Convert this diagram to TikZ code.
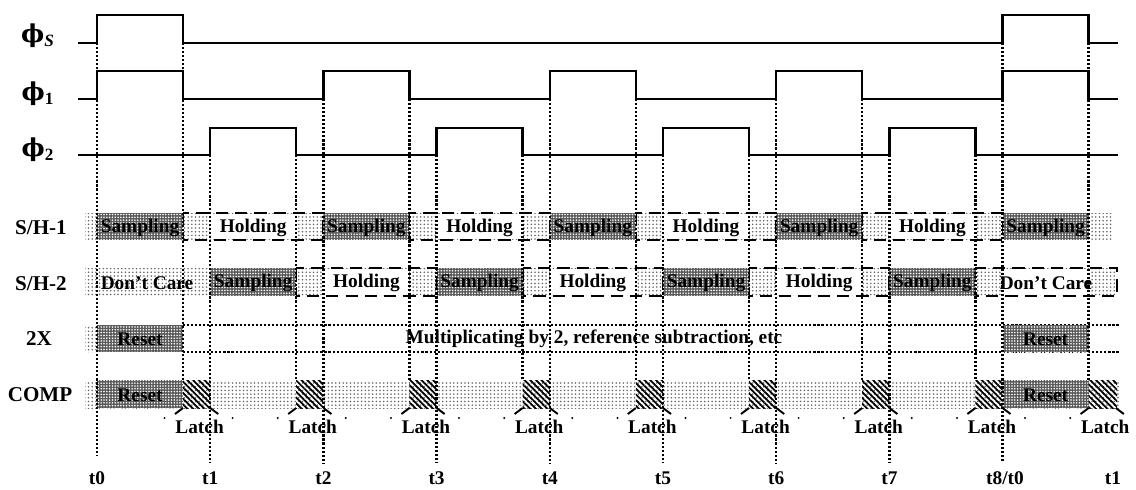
\documentclass[tikz,border=0pt]{standalone}
\usepackage{fontspec}
\setmainfont{Liberation Serif}
\newfontfamily\phifam{DejaVu Serif}
\usetikzlibrary{patterns.meta}

\newcommand\rowfont{\fontsize{11}{13}\selectfont\bfseries}
\newcommand\sidefont{\fontsize{12}{14}\selectfont\bfseries}
\newcommand\phifont{\fontsize{14}{17}\selectfont\bfseries}
\newcommand\phisym{{\phifam\bfseries ϕ}}

\begin{document}
\begin{tikzpicture}[x=0.02cm,y=-0.02cm,
  wave/.style={line width=1.4pt},
  guide/.style={line width=1.4pt,dash pattern=on 1.2pt off 1.1pt},
  band/.style={pattern={Dots[radius=0.5pt,distance=2.1pt]},pattern color=black!60},
  darkbox/.style={preaction={fill=black!65},pattern={Dots[radius=0.5pt,distance=1.6pt]},pattern color=white},
  latchbox/.style={pattern={Lines[angle=-45,distance=2.3pt,line width=1pt]},pattern color=black},
  holdbox/.style={line width=1.2pt,dash pattern=on 7pt off 4pt},
  rowline/.style={line width=1.4pt,dash pattern=on 1.2pt off 1.1pt},
  rowtext/.style={font=\rowfont,inner sep=1pt},
  sidelabel/.style={font=\sidefont,inner sep=0pt}]
\useasboundingbox (0,0) rectangle (1136,490);

% clock waveforms
\draw[wave] (78,43) \foreach \k in {0,8} { -- ({97+113.2*\k},43) -- ({97+113.2*\k},15) -- ({183+113.2*\k},15) -- ({183+113.2*\k},43) } -- (1118,43);
\draw[wave] (78,99) \foreach \k in {0,2,4,6,8} { -- ({97+113.2*\k},99) -- ({97+113.2*\k},71) -- ({183+113.2*\k},71) -- ({183+113.2*\k},99) } -- (1118,99);
\draw[wave] (78,155) \foreach \k in {1,3,5,7} { -- ({97+113.2*\k},155) -- ({97+113.2*\k},128) -- ({183+113.2*\k},128) -- ({183+113.2*\k},155) } -- (1118,155);

\node[font=\phifont,inner sep=0pt] (phis) at (38,36) {\phisym\textsubscript{\itshape S}};
\node[font=\phifont,inner sep=0pt] (phi1) at (38,94) {\phisym\textsubscript{1}};
\node[font=\phifont,inner sep=0pt] (phi2) at (38,150) {\phisym\textsubscript{2}};

% background bands
\fill[band] (85,213) rectangle (1113,240);
\fill[band] (85,268) rectangle (1117,296);
\fill[band] (85,325) rectangle (97,352);
\fill[band] (85,380) rectangle (1120,408);

% S/H-1
\foreach \k in {0,2,4,6} {
  \fill[white] ({97+113.2*(\k+1)},214) rectangle ({183+113.2*(\k+1)},239);
  \draw[holdbox] ({183+113.2*\k},213) rectangle ({97+113.2*(\k+2)},240);
}
\foreach \k in {0,2,4,6,8}
  \fill[darkbox] ({97+113.2*\k},213) rectangle ({183+113.2*\k},240);

% S/H-2
\foreach \k in {1,3,5,7}
  \fill[white] ({97+113.2*(\k+1)},269) rectangle ({183+113.2*(\k+1)},295);
\foreach \k in {1,3,5}
  \draw[holdbox] ({183+113.2*\k},268) rectangle ({97+113.2*(\k+2)},296);
\draw[holdbox] ({183+113.2*7},268) rectangle (1117,296);
\foreach \k in {1,3,5,7}
  \fill[darkbox] ({97+113.2*\k},268) rectangle ({183+113.2*\k},296);

% 2X
\draw[rowline] (183,325) -- (1120,325);
\draw[rowline] (183,352) -- (1120,352);
\fill[darkbox] (97,325) rectangle (183,352);
\fill[darkbox] ({97+113.2*8},325) rectangle ({183+113.2*8},352);

% COMP
\fill[darkbox] (97,380) rectangle (183,408);
\fill[darkbox] ({97+113.2*8},380) rectangle ({183+113.2*8},408);
\foreach \k in {0,...,7}
  \fill[latchbox] ({183+113.2*\k},380) rectangle ({97+113.2*(\k+1)},408);
\fill[latchbox] ({183+113.2*8},380) rectangle (1117,408);

% edge guides
\foreach \k/\ylo in {0/43,1/155,2/99,3/155,4/99,5/155,6/99,7/155,8/43} {
  \draw[guide] ({183+113.2*\k},\ylo) -- ({183+113.2*\k},380);
}
\foreach \k/\ylo/\yhi in {0/43/456,1/155/463,2/99/463,3/155/463,4/99/463,5/155/463,6/99/463,7/155/463,8/43/463} {
  \draw[guide] ({97+113.2*\k},\ylo) -- ({97+113.2*\k},\yhi);
}

% row texts
\foreach \k in {0,2,4,6,8}
  \node[rowtext] (sh1s\k) at ({140+113.2*\k},228) {Sampling};
\foreach \k in {0,2,4,6}
  \node[rowtext] (sh1h\k) at ({140+113.2*(\k+1)},228) {Holding};
\foreach \k in {1,3,5,7}
  \node[rowtext] (sh2s\k) at ({140+113.2*\k},283) {Sampling};
\foreach \k in {1,3,5}
  \node[rowtext] (sh2h\k) at ({140+113.2*(\k+1)},283) {Holding};
\node[rowtext] (sh2dc0) at (147,283) {Don't Care};
\node[rowtext] (sh2dc8) at (1046,283) {Don't Care};
\node[rowtext] (dbl0) at (140,339) {Reset};
\node[rowtext] (dbl8) at ({140+113.2*8},339) {Reset};
\node[rowtext] (dblmul) at (594,339) {Multiplicating by 2, reference subtraction, etc};
\node[rowtext] (cmp0) at (140,395) {Reset};
\node[rowtext] (cmp8) at ({140+113.2*8},395) {Reset};

% latch marks
\foreach \k in {0,...,8} {
  \pgfmathsetmacro\la{183+113.2*\k}
  \pgfmathsetmacro\lb{min(97+113.2*(\k+1),1117)}
  \pgfmathsetmacro\lc{(\la+\lb)/2+3}
  \draw[line width=1.1pt] (\la,408) -- (\la-8,414);
  \draw[line width=1.1pt] (\lb,408) -- (\lb+8,414);
  \node[rowtext] (latch\k) at (\lc,427) {Latch};
  \fill (\lc-35,418) circle (1.1);
  \ifnum\k<8 \fill (\lc+33,418) circle (1.1); \fi
}

% side labels
\node[sidelabel] (lsh1) at (41,228) {S/H-1};
\node[sidelabel] (lsh2) at (41,284) {S/H-2};
\node[sidelabel] (l2x) at (39,339) {2X};
\node[sidelabel] (lcomp) at (40,395) {COMP};

% time marks
\foreach \k in {0,...,7}
  \node[rowtext] (t\k) at ({97+113.2*\k},478) {t\k};
\node[rowtext] (t8) at (1005,478) {t8/t0};
\node[rowtext] (t9) at (1113,478) {t1};
\end{tikzpicture}
\end{document}
